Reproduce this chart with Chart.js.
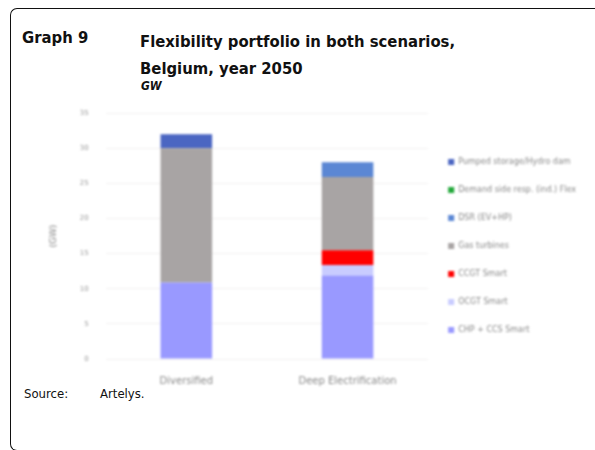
<!DOCTYPE html>
<html>
<head>
<meta charset="utf-8">
<script src="https://cdn.jsdelivr.net/npm/chart.js@4.4.0/dist/chart.umd.min.js"></script>
<style>
  html, body { margin: 0; padding: 0; background: #fff; }
  body { width: 595px; height: 450px; position: relative; overflow: hidden; font-family: "DejaVu Sans Condensed", "DejaVu Sans", sans-serif; }
  .frame { position: absolute; left: 10px; top: 8px; width: 620px; height: 441px; border: 1.5px solid #111; border-right: none; border-radius: 7px 0 0 7px; }
  .num { position: absolute; left: 22px; top: 28px; font-weight: bold; font-size: 16.5px; color: #111; }
  .title { position: absolute; left: 140px; top: 28px; font-weight: bold; font-size: 16.5px; line-height: 27px; color: #111; }
  .unit { position: absolute; left: 141px; top: 79px; font-weight: bold; font-style: italic; font-size: 12px; color: #111; }
  .source { position: absolute; left: 24px; top: 386px; font-size: 13px; color: #111; }
  .source span { position: absolute; left: 76px; }
  #wrap { position: absolute; left: 40px; top: 92px; width: 546px; height: 309px; filter: blur(0.9px); }
</style>
</head>
<body>
<div class="frame"></div>
<div class="num">Graph 9</div>
<div class="title">Flexibility portfolio in both scenarios,<br>Belgium, year 2050</div>
<div class="unit">GW</div>
<div class="source">Source:<span>Artelys.</span></div>
<div id="wrap"><canvas id="chart" width="546" height="309"></canvas></div>
<script>
const scenarios = ['Diversified', 'Deep Electrification'];
const seriesNames = [
  'Pumped storage/Hydro dam',
  'Demand side resp. (ind.) Flex',
  'DSR (EV+HP)',
  'Gas turbines',
  'CCGT Smart',
  'OCGT Smart',
  'CHP + CCS Smart'
];
const pumpedStorage = [2.0, 0];
const industryDsr = [0, 0];
const householdDsr = [0, 2.1];
const gasTurbines = [19.1, 10.4];
const ccgtNew = [0, 2.1];
const ocgtNew = [0, 1.5];
const chpExisting = [10.9, 11.9];
const yTicks = [0, 5, 10, 15, 20, 25, 30, 35];

const colors = ['#4b66c2', '#22a83a', '#5b87d4', '#a8a4a4', '#ff0000', '#c9ccff', '#9999ff'];
const values = [pumpedStorage, industryDsr, householdDsr, gasTurbines, ccgtNew, ocgtNew, chpExisting];

// stack from the bottom series upward; the legend lists them top first
let datasets = [];
for (let i = values.length - 1; i >= 0; i--) {
  datasets.push({
    label: seriesNames[i],
    data: values[i],
    backgroundColor: colors[i],
    barPercentage: 0.32,
    categoryPercentage: 1
  });
}

const ctx = document.getElementById('chart').getContext('2d');
new Chart(ctx, {
  type: 'bar',
  data: { labels: scenarios, datasets: datasets },
  options: {
    responsive: false,
    animation: false,
    layout: { padding: { top: 5, bottom: 6, left: 4, right: 0 } },
    plugins: {
      tooltip: { enabled: false },
      legend: {
        position: 'right',
        reverse: true,
        maxWidth: 200,
        labels: {
          boxWidth: 6,
          boxHeight: 6,
          padding: 20,
          color: '#888',
          font: { size: 8, family: 'DejaVu Sans' }
        }
      }
    },
    scales: {
      x: {
        stacked: true,
        grid: { display: false },
        border: { display: false },
        ticks: { color: '#888', font: { size: 10, family: 'DejaVu Sans' }, padding: 8 }
      },
      y: {
        stacked: true,
        min: 0,
        max: 35,
        afterBuildTicks: axis => { axis.ticks = yTicks.map(v => ({ value: v })); },
        grid: { color: '#f2f0f0', drawTicks: false },
        border: { display: false },
        ticks: { color: '#999', font: { size: 7, family: 'DejaVu Sans' }, padding: 17 },
        title: { display: true, text: '(GW)', color: '#888', font: { size: 9, family: 'DejaVu Sans' } }
      }
    }
  }
});
</script>
</body>
</html>
